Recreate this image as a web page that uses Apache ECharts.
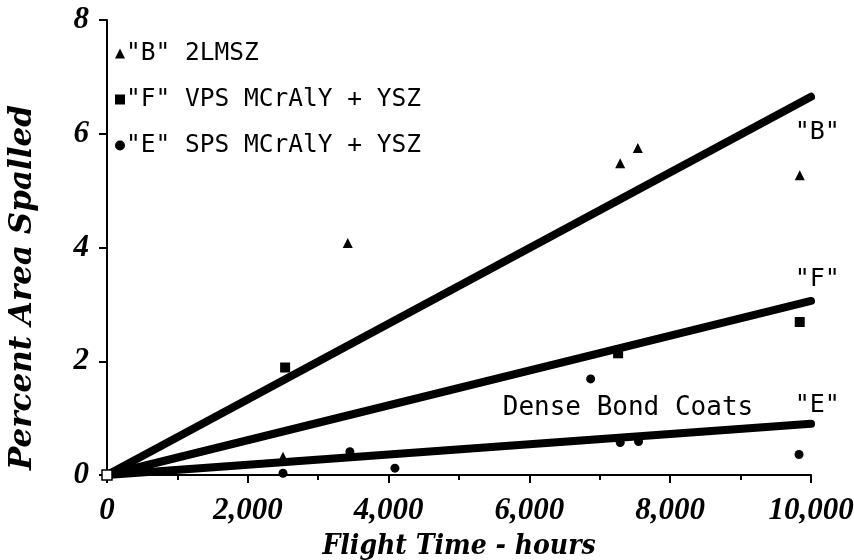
<!DOCTYPE html>
<html>
<head>
<meta charset="utf-8">
<script src="https://cdn.jsdelivr.net/npm/echarts@6/dist/echarts.min.js"></script>
<style>
  html, body { margin: 0; padding: 0; background: #fff; }
  #main { width: 854px; height: 560px; }
</style>
</head>
<body>
<div id="main"></div>
<script>
// data
var seriesNames = ['"B" 2LMSZ', '"F" VPS MCrAlY + YSZ', '"E" SPS MCrAlY + YSZ'];
var pointsB = [[2500, 0.32], [3420, 4.08], [7290, 5.48], [7540, 5.75], [9840, 5.27]];
var pointsF = [[2530, 1.89], [7260, 2.14], [9840, 2.69]];
var pointsE = [[2500, 0.03], [3450, 0.41], [4090, 0.12], [6870, 1.69], [7290, 0.57], [7550, 0.59], [9830, 0.36]];
var fitB = [[0, 0], [10000, 6.65]];
var fitF = [[0, 0], [10000, 3.06]];
var fitE = [[0, 0], [10000, 0.90]];
var fitLabels = ['"B"', '"F"', '"E"'];
var fitLabelPos = [[10090, 6.03], [10090, 3.43], [10090, 1.23]];
var originPoint = [[0, 0]];
var noteText = 'Dense Bond Coats';
var notePoint = [[7400, 1.18]];

var tickFont = 'Liberation Serif';
var nameFont = 'DejaVu Serif';
var textFont = 'DejaVu Sans Mono';

var labelData = fitLabelPos.map(function (p, i) {
  return { value: p, label: { formatter: fitLabels[i] } };
});

function fitLine(data) {
  return {
    type: 'line', data: data, symbol: 'none', silent: true,
    lineStyle: { color: '#000', width: 8, cap: 'round' },
    z: 2
  };
}

var myChart = echarts.init(document.getElementById('main'));
myChart.setOption({
  animation: false,
  backgroundColor: '#fff',
  grid: { left: 107, right: 43, top: 20, bottom: 85, outerBoundsMode: 'none', containLabel: false },
  legend: {
    orient: 'vertical', left: 110, top: 36, itemGap: 21,
    itemWidth: 10, itemHeight: 10,
    data: [
      { name: seriesNames[0], icon: 'triangle' },
      { name: seriesNames[1], icon: 'rect' },
      { name: seriesNames[2], icon: 'circle' }
    ],
    textStyle: { color: '#000', fontSize: 24.5, fontFamily: textFont, padding: [0, 0, 0, -4] }
  },
  xAxis: {
    type: 'value', min: 0, max: 10000, interval: 2000,
    name: 'Flight Time - hours', nameLocation: 'middle', nameGap: 58,
    nameTextStyle: { color: '#000', fontSize: 28, fontFamily: 'DejaVu Serif Condensed', fontWeight: 'bold', fontStyle: 'italic' },
    axisLine: { lineStyle: { color: '#000', width: 2 } },
    axisTick: { length: 8, lineStyle: { color: '#000', width: 2 } },
    minorTick: { show: true, splitNumber: 2, length: 5, lineStyle: { color: '#000', width: 2 } },
    splitLine: { show: false },
    axisLabel: {
      color: '#000', fontSize: 31, margin: 20, fontFamily: tickFont, fontWeight: 'bold', fontStyle: 'italic',
      formatter: function (v) { return v.toLocaleString('en-US'); }
    }
  },
  yAxis: {
    type: 'value', min: 0, max: 8, interval: 2,
    name: 'Percent Area Spalled', nameLocation: 'middle', nameGap: 69,
    nameTextStyle: {
      color: '#000', fontSize: 31, fontFamily: nameFont, fontWeight: 'bold', fontStyle: 'italic',
      padding: [0, 80, 0, 0]
    },
    axisLine: { show: true, lineStyle: { color: '#000', width: 2 } },
    axisTick: { show: true, length: 8, lineStyle: { color: '#000', width: 2 } },
    splitLine: { show: false },
    axisLabel: { color: '#000', fontSize: 31, margin: 18, fontFamily: tickFont, fontWeight: 'bold', fontStyle: 'italic' }
  },
  series: [
    fitLine(fitB),
    fitLine(fitF),
    fitLine(fitE),
    {
      name: seriesNames[0], type: 'scatter', data: pointsB, symbol: 'triangle', symbolSize: 10,
      itemStyle: { color: '#000', opacity: 1 }, z: 3
    },
    {
      name: seriesNames[1], type: 'scatter', data: pointsF, symbol: 'rect', symbolSize: 10,
      itemStyle: { color: '#000', opacity: 1 }, z: 3
    },
    {
      name: seriesNames[2], type: 'scatter', data: pointsE, symbol: 'circle', symbolSize: 9,
      itemStyle: { color: '#000', opacity: 1 }, z: 3
    },
    {
      type: 'scatter', data: originPoint, symbol: 'rect', symbolSize: 10, silent: true,
      itemStyle: { color: '#fff', borderColor: '#000', borderWidth: 1.5, opacity: 1 }, z: 4
    },
    {
      type: 'scatter', data: labelData, symbolSize: 0, silent: true, clip: false,
      itemStyle: { opacity: 1 },
      label: { show: true, color: '#000', fontSize: 25, fontFamily: textFont, position: 'inside' }
    },
    {
      type: 'scatter', data: notePoint, symbolSize: 0, silent: true,
      itemStyle: { opacity: 1 },
      label: { show: true, formatter: noteText, color: '#000', fontSize: 26, fontFamily: textFont, position: 'inside' }
    }
  ]
});
</script>
</body>
</html>
